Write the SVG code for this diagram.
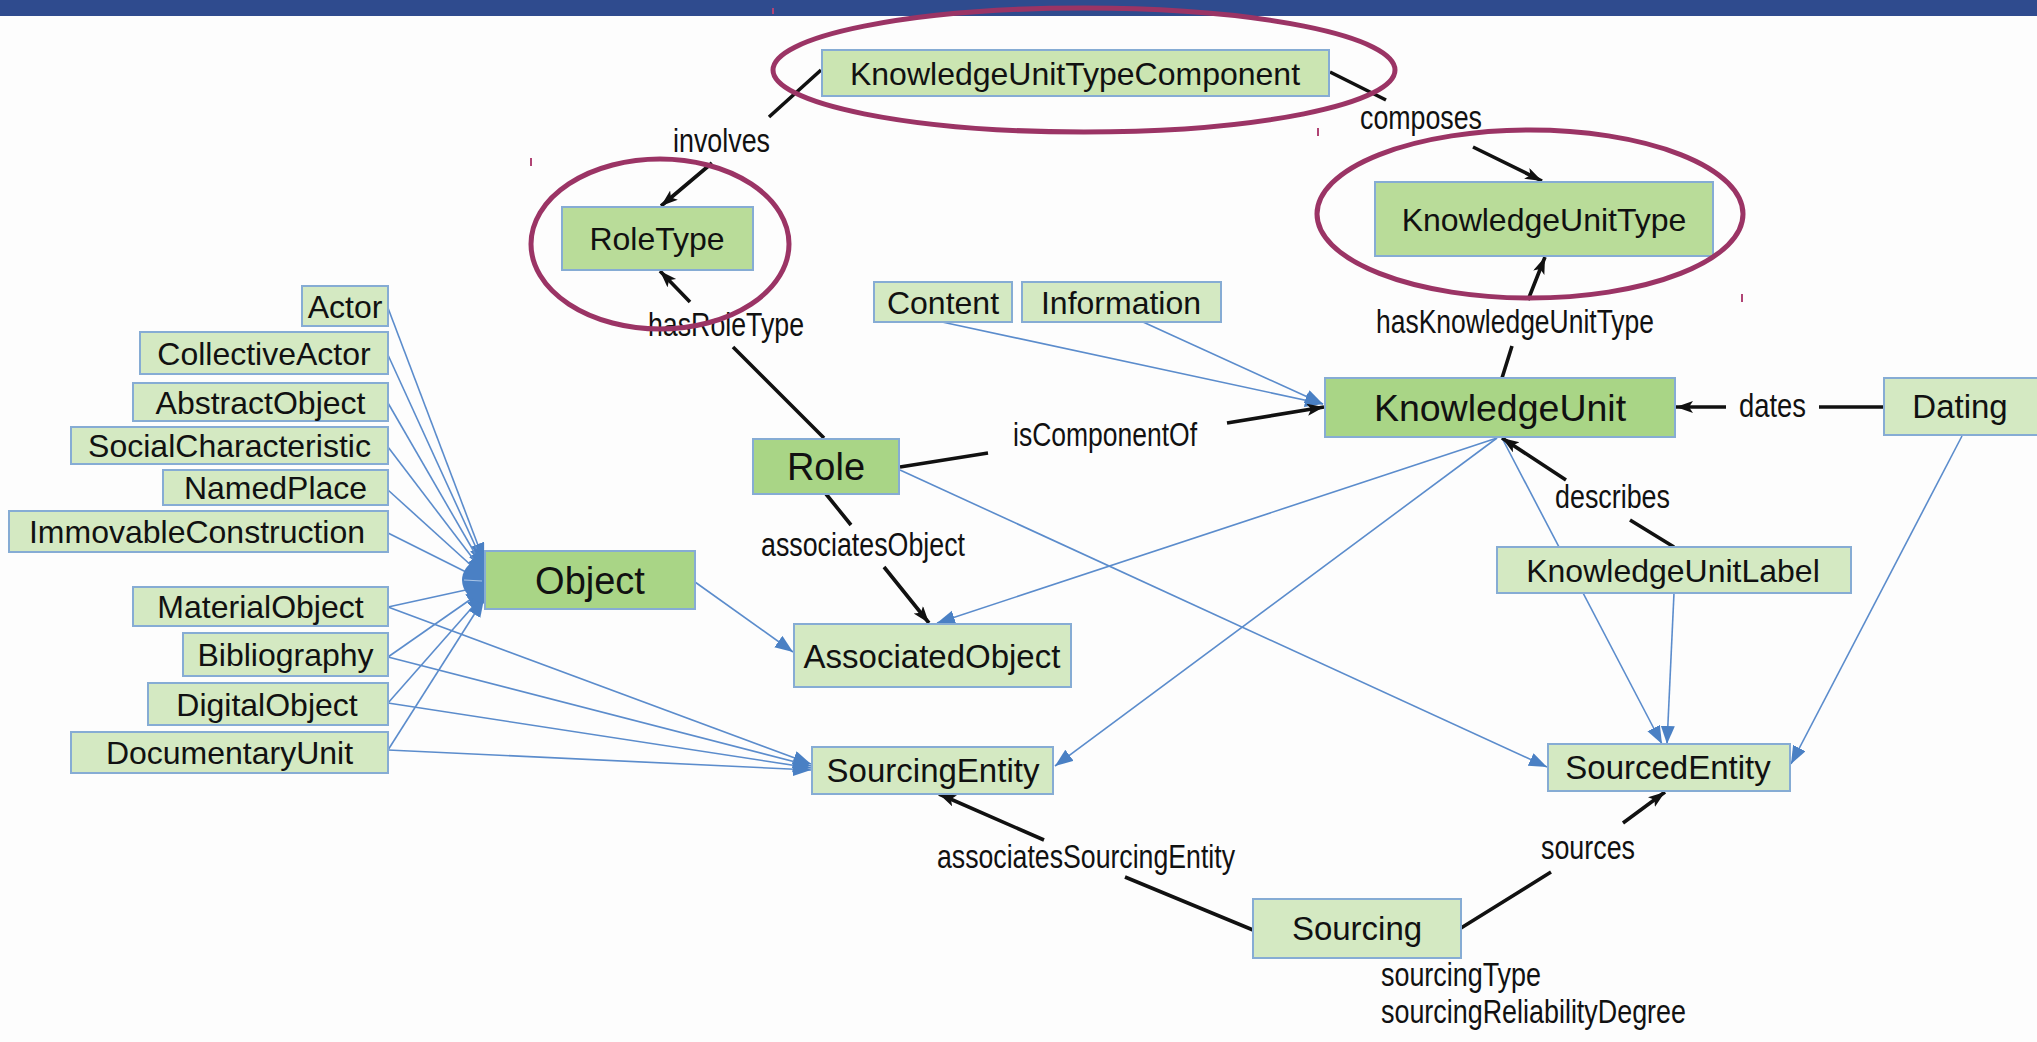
<svg xmlns="http://www.w3.org/2000/svg" width="2037" height="1042" viewBox="0 0 2037 1042">
<defs>
<style>
.nl{fill:#d4e9c2;stroke:#86acd4;stroke-width:2}
.nm{fill:#b9dc99;stroke:#86acd4;stroke-width:2}
.nd{fill:#a9d586;stroke:#86acd4;stroke-width:2}
.nc{fill:#cbe5b2;stroke:#86acd4;stroke-width:2}
.t{font-family:"Liberation Sans",Arial,sans-serif;fill:#111;text-anchor:middle}
.t32{font-size:32px}
.t33{font-size:33px}
.t38{font-size:38px}
.lb{font-family:"Liberation Sans Narrow","Liberation Sans",Arial,sans-serif;font-size:33px;fill:#111}
.bl{fill:none;stroke:#5b8ccc;stroke-width:1.6;marker-end:url(#ab)}
.bk{fill:none;stroke:#111;stroke-width:3.6;marker-end:url(#ak)}
.ring{fill:none;stroke:#9b3465;stroke-width:5}
.tick{stroke:#b04474;stroke-width:2}
</style>
<marker id="ab" markerUnits="userSpaceOnUse" markerWidth="20" markerHeight="16" refX="18" refY="7" orient="auto">
<path d="M0,0 L18,7 L0,14 z" fill="#4a80c4"/>
</marker>
<marker id="ak" markerUnits="userSpaceOnUse" markerWidth="20" markerHeight="14" refX="17" refY="6" orient="auto">
<path d="M0,0 L17,6 L0,12 L4,6 z" fill="#111"/>
</marker>
</defs>
<rect x="0" y="0" width="2037" height="1042" fill="#fdfdfd"/>
<rect x="0" y="0" width="2037" height="16" fill="#2f4b8e"/>

<g id="connectors">
<path class="bl" d="M388,308 L484,561"/>
<path class="bl" d="M388,355 L484,565"/>
<path class="bl" d="M388,403 L484,569"/>
<path class="bl" d="M388,447 L484,573"/>
<path class="bl" d="M388,490 L484,577"/>
<path class="bl" d="M388,533 L484,581"/>
<path class="bl" d="M388,607 L484,586"/>
<path class="bl" d="M388,657 L484,590"/>
<path class="bl" d="M388,703 L484,594"/>
<path class="bl" d="M388,750 L484,599"/>
<path d="M485,556 C471,559 462,570 462,580 C462,591 471,601 485,604 Z" fill="#4a80c4"/>
<path d="M464,580 L482,581" stroke="#a9c4e6" stroke-width="1.2"/>
<path class="bl" d="M388,607 L811,764"/>
<path class="bl" d="M388,657 L811,766"/>
<path class="bl" d="M388,703 L811,768"/>
<path class="bl" d="M388,750 L811,770"/>
<path class="bl" d="M695,582 L793,652"/>
<path class="bl" d="M942,322 L1323,404"/>
<path class="bl" d="M1143,322 L1323,404"/>
<path class="bl" d="M1497,438 L937,623"/>
<path class="bl" d="M1497,438 L1055,766"/>
<path class="bl" d="M900,470 L1547,767"/>
<path class="bl" d="M1502,438 L1662,744"/>
<path class="bl" d="M1674,593 L1667,744"/>
<path class="bl" d="M1962,436 L1791,764"/>

<path class="bk" d="M821,70 L769,117 M712,163 L661,206"/>
<path class="bk" d="M1330,72 L1386,100 M1473,147 L1542,181"/>
<path class="bk" d="M824,438 L733,347 M690,302 L660,271"/>
<path class="bk" d="M1502,378 L1512,346 M1528,300 L1545,257"/>
<path class="bk" d="M900,467 L988,453 M1227,423 L1324,407"/>
<path class="bk" d="M826,494 L851,525 M884,567 L929,623"/>
<path class="bk" d="M1884,407 L1819,407 M1726,407 L1676,407"/>
<path class="bk" d="M1674,547 L1630,520 M1566,480 L1502,438"/>
<path class="bk" d="M1253,930 L1125,877 M1044,840 L939,794"/>
<path class="bk" d="M1461,928 L1551,872 M1623,823 L1665,792"/>

<text class="lb" x="673" y="152" textLength="97" lengthAdjust="spacingAndGlyphs">involves</text>
<text class="lb" x="1360" y="129" textLength="122" lengthAdjust="spacingAndGlyphs">composes</text>
<text class="lb" x="648" y="336" textLength="156" lengthAdjust="spacingAndGlyphs">hasRoleType</text>
<text class="lb" x="1376" y="333" textLength="278" lengthAdjust="spacingAndGlyphs">hasKnowledgeUnitType</text>
<text class="lb" x="1013" y="446" textLength="184" lengthAdjust="spacingAndGlyphs">isComponentOf</text>
<text class="lb" x="1739" y="417" textLength="67" lengthAdjust="spacingAndGlyphs">dates</text>
<text class="lb" x="1555" y="508" textLength="115" lengthAdjust="spacingAndGlyphs">describes</text>
<text class="lb" x="761" y="556" textLength="204" lengthAdjust="spacingAndGlyphs">associatesObject</text>
<text class="lb" x="937" y="868" textLength="298" lengthAdjust="spacingAndGlyphs">associatesSourcingEntity</text>
<text class="lb" x="1541" y="859" textLength="94" lengthAdjust="spacingAndGlyphs">sources</text>
<text class="lb" x="1381" y="986" textLength="160" lengthAdjust="spacingAndGlyphs">sourcingType</text>
<text class="lb" x="1381" y="1023" textLength="305" lengthAdjust="spacingAndGlyphs">sourcingReliabilityDegree</text>
</g>

<g id="KnowledgeUnitTypeComponent"><rect class="nc" x="822" y="50" width="507" height="46"/><text class="t t32" x="1075" y="84.5">KnowledgeUnitTypeComponent</text></g>
<g id="RoleType"><rect class="nm" x="562" y="207" width="191" height="63"/><text class="t t32" x="657" y="250">RoleType</text></g>
<g id="KnowledgeUnitType"><rect class="nm" x="1375" y="182" width="338" height="74"/><text class="t t32" x="1544" y="230.5">KnowledgeUnitType</text></g>
<g id="Actor"><rect class="nl" x="302" y="286" width="86" height="40"/><text class="t t32" x="345" y="317.5">Actor</text></g>
<g id="CollectiveActor"><rect class="nl" x="140" y="332" width="248" height="42"/><text class="t t32" x="264" y="364.5">CollectiveActor</text></g>
<g id="AbstractObject"><rect class="nl" x="133" y="383" width="255" height="38"/><text class="t t32" x="260.5" y="413.5">AbstractObject</text></g>
<g id="SocialCharacteristic"><rect class="nl" x="71" y="427" width="317" height="37"/><text class="t t32" x="229.5" y="457">SocialCharacteristic</text></g>
<g id="NamedPlace"><rect class="nl" x="163" y="470" width="225" height="35"/><text class="t t32" x="275.5" y="499">NamedPlace</text></g>
<g id="ImmovableConstruction"><rect class="nl" x="9" y="511" width="379" height="41"/><text class="t t32" x="197" y="543">ImmovableConstruction</text></g>
<g id="MaterialObject"><rect class="nl" x="133" y="587" width="255" height="39"/><text class="t t32" x="260.5" y="618">MaterialObject</text></g>
<g id="Bibliography"><rect class="nl" x="183" y="633" width="205" height="43"/><text class="t t32" x="285.5" y="666">Bibliography</text></g>
<g id="DigitalObject"><rect class="nl" x="148" y="683" width="240" height="42"/><text class="t t32" x="267" y="715.5">DigitalObject</text></g>
<g id="DocumentaryUnit"><rect class="nl" x="71" y="732" width="317" height="41"/><text class="t t32" x="229.5" y="764">DocumentaryUnit</text></g>
<g id="Object"><rect class="nd" x="485" y="551" width="210" height="58"/><text class="t t38" x="590" y="593.5">Object</text></g>
<g id="Role"><rect class="nd" x="753" y="439" width="146" height="55"/><text class="t t38" x="826" y="480">Role</text></g>
<g id="Content"><rect class="nl" x="874" y="282" width="138" height="40"/><text class="t t32" x="943" y="313.5">Content</text></g>
<g id="Information"><rect class="nl" x="1022" y="282" width="199" height="40"/><text class="t t32" x="1121" y="313.5">Information</text></g>
<g id="KnowledgeUnit"><rect class="nd" x="1325" y="378" width="350" height="59"/><text class="t" style="font-size:37.5px" x="1500" y="421">KnowledgeUnit</text></g>
<g id="Dating"><rect class="nl" x="1884" y="378" width="160" height="57"/><text class="t t33" x="1960" y="418">Dating</text></g>
<g id="KnowledgeUnitLabel"><rect class="nl" x="1497" y="547" width="354" height="46"/><text class="t t32" x="1673" y="581.5">KnowledgeUnitLabel</text></g>
<g id="AssociatedObject"><rect class="nl" x="794" y="624" width="277" height="63"/><text class="t t33" x="932" y="667.5">AssociatedObject</text></g>
<g id="SourcingEntity"><rect class="nl" x="812" y="747" width="241" height="47"/><text class="t t33" x="933" y="782">SourcingEntity</text></g>
<g id="SourcedEntity"><rect class="nl" x="1548" y="744" width="242" height="47"/><text class="t t33" x="1668" y="779">SourcedEntity</text></g>
<g id="Sourcing"><rect class="nl" x="1253" y="899" width="208" height="59"/><text class="t t33" x="1357" y="940">Sourcing</text></g>

<g id="highlights">
<ellipse class="ring" cx="1084" cy="70" rx="311" ry="62"/>
<ellipse class="ring" cx="660" cy="244" rx="129" ry="85"/>
<ellipse class="ring" cx="1530" cy="214" rx="213" ry="84"/>
<line class="tick" x1="531" y1="158" x2="531" y2="166"/>
<line class="tick" x1="1318" y1="128" x2="1318" y2="136"/>
<line class="tick" x1="1742" y1="294" x2="1742" y2="302"/>
<line class="tick" x1="773" y1="8" x2="773" y2="14"/>
</g>
</svg>
